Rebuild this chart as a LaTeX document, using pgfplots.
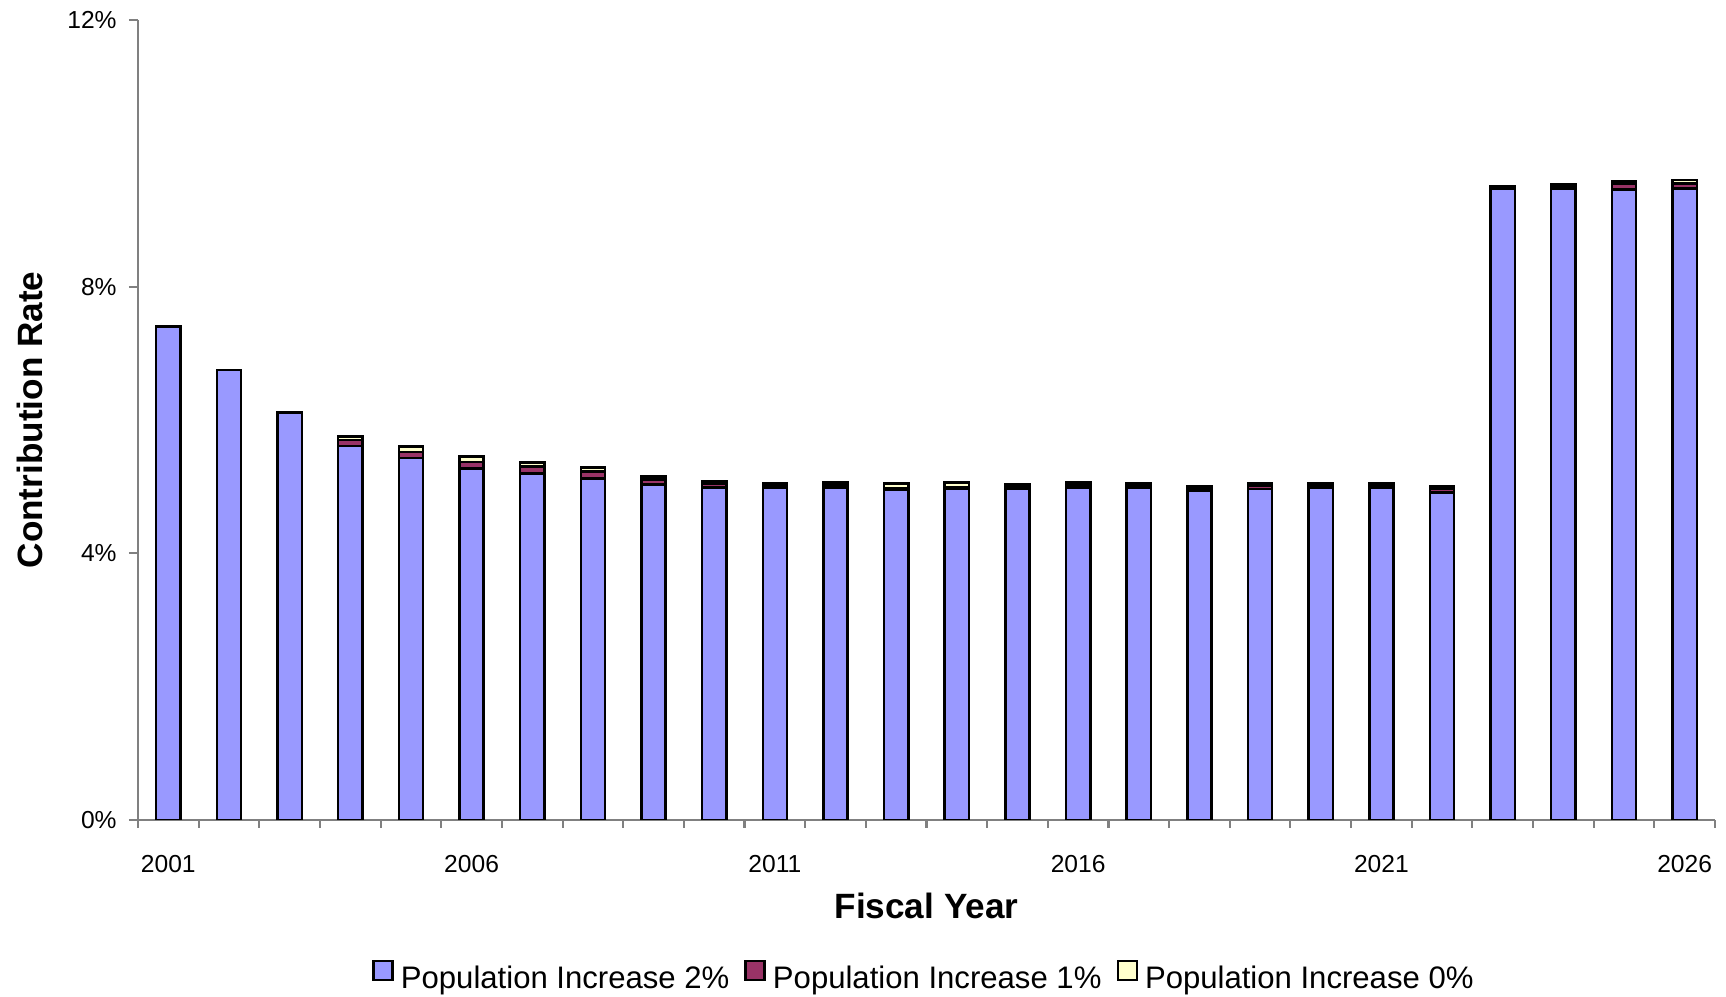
\documentclass[border=0pt]{standalone}
\usepackage{pgfplots}
\pgfplotsset{compat=1.18}
\usepackage{fontspec}
\setmainfont{Liberation Sans}
\definecolor{cblue}{HTML}{9999FF}
\definecolor{cpurple}{HTML}{993366}
\definecolor{cyellow}{HTML}{FFFFCC}
\pgfplotstableread{
x b p y
0 7.40 0 0
1 6.75 0 0
2 6.11 0 0
3 5.61 0.09 0.05
4 5.43 0.09 0.08
5 5.27 0.10 0.08
6 5.20 0.10 0.06
7 5.125 0.10 0.065
8 5.035 0.07 0.05
9 4.99 0.05 0.035
10 4.99 0.03 0.03
11 4.99 0.04 0.035
12 4.95 0.02 0.08
13 4.965 0.02 0.075
14 4.965 0.035 0.035
15 4.99 0.04 0.035
16 4.99 0.03 0.03
17 4.935 0.04 0.035
18 4.965 0.045 0.04
19 4.99 0.03 0.03
20 4.99 0.03 0.03
21 4.915 0.05 0.035
22 9.47 0.02 0.02
23 9.47 0.04 0.03
24 9.46 0.08 0.04
25 9.47 0.08 0.05
}\datatable
\begin{document}
\begin{tikzpicture}
\useasboundingbox (-13.8mm,-17.7mm) rectangle (158.8mm,82mm);
\begin{axis}[
  at={(0,0)}, anchor=south west,
  scale only axis,
  width=157.7mm, height=80mm,
  ybar stacked,
  bar width=0.4,
  xmin=-0.5, xmax=25.5,
  ymin=0, ymax=12,
  axis x line*=bottom, axis y line*=left,
  axis line style={color=gray, line width=0.6pt},
  xtick={0,5,10,15,20,25},
  xticklabels={2001,2006,2011,2016,2021,2026},
  minor xtick={-0.5,0.5,...,25.5},
  ytick={0,4,8,12},
  yticklabels={0\%,4\%,8\%,12\%},
  tick align=outside,
  major tick length=0.9mm,
  minor tick length=0.8mm,
  major x tick style={draw=none},
  tick style={color=gray, line width=0.6pt},
  xticklabel style={anchor=center, yshift=-3.5mm, font=\fontsize{7}{8}\selectfont},
  yticklabel style={anchor=east, font=\fontsize{7}{8}\selectfont},
  xlabel={Fiscal Year},
  ylabel={Contribution Rate},
  x label style={at={(axis description cs:0.5,-0.1075)}, anchor=center, font=\fontsize{10}{12}\selectfont\bfseries},
  y label style={at={(axis description cs:-0.0685,0.5)}, anchor=center, font=\fontsize{10}{12}\selectfont\bfseries},
  legend columns=3,
  legend style={at={(axis description cs:0.5,-0.200)}, anchor=center, draw=none,
    font=\fontsize{8.85}{10}\selectfont,
    /tikz/every even column/.append style={column sep=0.8mm}},
  legend image code/.code={\draw[#1,line width=0.7pt] (0mm,0mm) rectangle (1.9mm,1.9mm);},
  every axis plot/.append style={draw=black, line width=0.7pt},
]
\addplot[fill=cblue] table[x=x,y=b]{\datatable};
\addplot[fill=cpurple] table[x=x,y=p]{\datatable};
\addplot[fill=cyellow] table[x=x,y=y]{\datatable};
\legend{Population Increase 2\%,Population Increase 1\%,Population Increase 0\%}
\end{axis}
\end{tikzpicture}
\end{document}
